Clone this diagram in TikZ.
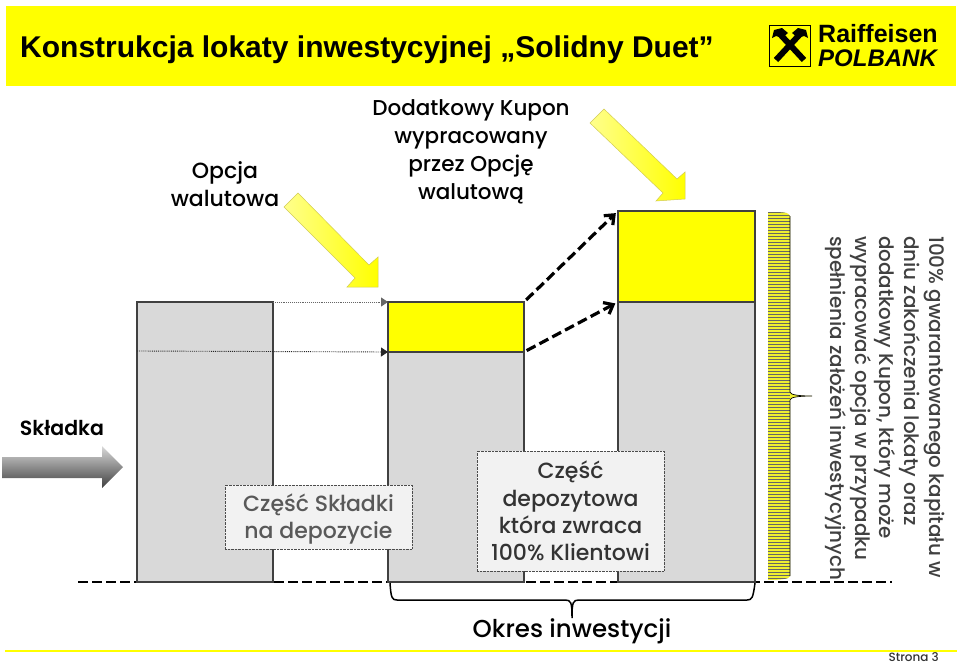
\documentclass[tikz,border=0pt]{standalone}
\usepackage{fontspec}
\setmainfont{Poppins Medium}[BoldFont=Poppins SemiBold]
\newfontfamily\arialfont{Liberation Sans}
\usetikzlibrary{arrows.meta}
\definecolor{pkoyellow}{HTML}{FFFF00}
\definecolor{pkogray}{HTML}{D9D9D9}
\definecolor{pkoedge}{HTML}{404040}
\definecolor{pkotext}{HTML}{595959}
\definecolor{pkobox}{HTML}{F2F2F2}
\definecolor{pkocomb}{HTML}{F0F030}
\tikzset{
barbox/.style={draw=pkoedge,line width=2pt,fill=pkogray,inner sep=0pt,outer sep=0pt,anchor=north west},
bonusbox/.style={barbox,fill=pkoyellow},
notebox/.style={draw=black!70,densely dotted,fill=pkobox,inner sep=0pt,outer sep=0pt,align=center,anchor=north west},
label/.style={inner sep=0pt,align=center,font=\fontsize{22}{27.5}\selectfont},
yellowarrow/.style={draw=yellow!60!gray,line width=0.5pt,left color=yellow!45!white,right color=pkoyellow},
levelarrow/.style={black!85,line width=0.9pt,densely dotted,-{Triangle[length=7pt,width=9pt]}},
growarrow/.style={black,line width=3.2pt,dash pattern=on 10pt off 4.5pt,-{Straight Barb[length=8pt,width=13pt]},shorten <=3pt,shorten >=3pt},
}

\begin{document}
\begin{tikzpicture}[x=1pt,y=-1pt]
\useasboundingbox (0,0) rectangle (960,664);
\fill[pkoyellow] (6,6) rectangle (956,86); %Banner
\node[anchor=west,inner sep=0pt,font=\arialfont\bfseries\fontsize{30}{30}\selectfont] (title) at (20,50) {Konstrukcja lokaty inwestycyjnej „Solidny Duet”};
\draw[black,line width=1.3pt] (769.5,25.5) rectangle (810.5,66.5); %Logo square
\draw[black,line width=6pt] (776,60) -- (802,32); %Logo cross
\draw[black,line width=6pt] (804,60) -- (778,32);
\fill[black] (772,38) -- (774,30) -- (782,28) -- (788,33) -- (782,38) -- (776,36) -- cycle; %Logo heads
\fill[black] (808,38) -- (806,30) -- (798,28) -- (792,33) -- (798,38) -- (804,36) -- cycle;
\node[anchor=west,inner sep=0pt,font=\arialfont\bfseries\fontsize{25}{25}\selectfont] (logoa) at (818,34) {Raiffeisen};
\node[anchor=west,inner sep=0pt,font=\arialfont\bfseries\itshape\fontsize{24}{24}\selectfont] (logob) at (818,58) {POLBANK};
\coordinate (basea) at (78,582);
\coordinate (baseb) at (892,582);
\draw[black,line width=2.6pt,dash pattern=on 10pt off 4pt] (basea) -- (baseb); %Base line
\node[barbox,minimum width=136pt,minimum height=280pt] (bara) at (137,302) {};
\node[inner sep=0pt,outer sep=0pt,anchor=north west,minimum width=136pt,minimum height=0pt] (baralevel) at (137,351) {};
\node[bonusbox,minimum width=136pt,minimum height=50pt] (barbtop) at (388,302) {};
\node[barbox,minimum width=136pt,minimum height=230pt] (barbbot) at (388,352) {};
\node[bonusbox,minimum width=137pt,minimum height=91pt] (barctop) at (618,211) {};
\node[barbox,minimum width=137pt,minimum height=280pt] (barcbot) at (618,302) {};
\draw[levelarrow,black!60] (bara.north east) -- (barbtop.north west); %Carried levels
\draw[levelarrow] (baralevel.west) -- (barbtop.south west);
\draw[growarrow] (barbtop.north east) -- (barctop.north west); %Grow arrows
\draw[growarrow] (barbtop.south east) -- (barctop.south west);
\draw[yellowarrow] (298,193) -- (284,207) -- (355,278) -- (347,287) -- (378,287) -- (378,257) -- (369,265) -- cycle; %Yellow arrow left
\draw[yellowarrow] (604,109) -- (590,123) -- (663,193) -- (656,201) -- (685,199) -- (685,172) -- (677,179) -- cycle; %Yellow arrow right
\shade[top color=pkogray,middle color=black!45,bottom color=black!75] (2,457) -- (102,457) -- (102,446) -- (123,467) -- (102,488) -- (102,478) -- (2,478) -- cycle; %Gray arrow
\node[label,font=\bfseries\fontsize{20.5}{27}\selectfont] (premium) at (62,428) {Składka};
\node[label] (option) at (225,184) {Opcja\\walutowa};
\node[label,font=\fontsize{21.5}{28}\selectfont] (coupon) at (471,152) {Dodatkowy Kupon\\wypracowany\\przez Opcję\\walutową};
\node[notebox,minimum width=187pt,minimum height=64pt] (notea) at (225,485) {};
\node[label,text=pkotext,font=\fontsize{22}{27}\selectfont] (noteatext) at (318.5,519.5) {Część Składki\\na depozycie};
\node[notebox,font=\fontsize{22}{27.3}\selectfont,text=black!80,minimum width=187pt,minimum height=120pt] (noteb) at (477,451) {Część\\depozytowa\\która zwraca\\100\% Klientowi};
\begin{scope} %Side comb
\clip (768,212) .. controls (780,212) and (790,212) .. (790,216) -- (790,392) .. controls (790,395) and (800,396) .. (812,396) .. controls (800,396) and (790,397) .. (790,400) -- (790,576) .. controls (790,579) and (780,580) .. (768,580) -- cycle;
\fill[pkocomb] (768,212) rectangle (812,580);
\foreach \y in {212,215,...,580} {
\draw[black!60,line width=0.7pt] (768,\y) -- (790,\y);
}
\end{scope}
\draw[black,line width=0.7pt] (790,216) -- (790,392) .. controls (790,395) and (800,396) .. (812,396) .. controls (800,396) and (790,397) .. (790,400) -- (790,576);
\node[rotate=-90,anchor=north west,inner sep=0pt,align=left,text=pkoedge,font=\fontsize{19.9}{24.8}\selectfont] (sidenote) at (945,236) {100\% gwarantowanego kapitału w\\dniu zakończenia lokaty oraz\\dodatkowy Kupon, który może\\wypracować opcja w przypadku\\spełnienia założeń inwestycyjnych};
\draw[black,line width=1.5pt] (390,583) .. controls (391,598) and (392,600) .. (397,600) -- (565,600) .. controls (571,600) and (572,602) .. (572,618) .. controls (572,602) and (573,600) .. (579,600) -- (747,600) .. controls (752,600) and (753,598) .. (755,583); %Bottom brace
\node[label,font=\fontsize{24.5}{24}\selectfont] (period) at (572,631) {Okres inwestycji};
\fill[pkoyellow] (5,649.5) rectangle (957,651.5); %Footer line
\node[anchor=base east,inner sep=0pt,text=black!80,font=\fontsize{12}{12}\selectfont] (page) at (939,661) {Strona 3};
\end{tikzpicture}
\end{document}
